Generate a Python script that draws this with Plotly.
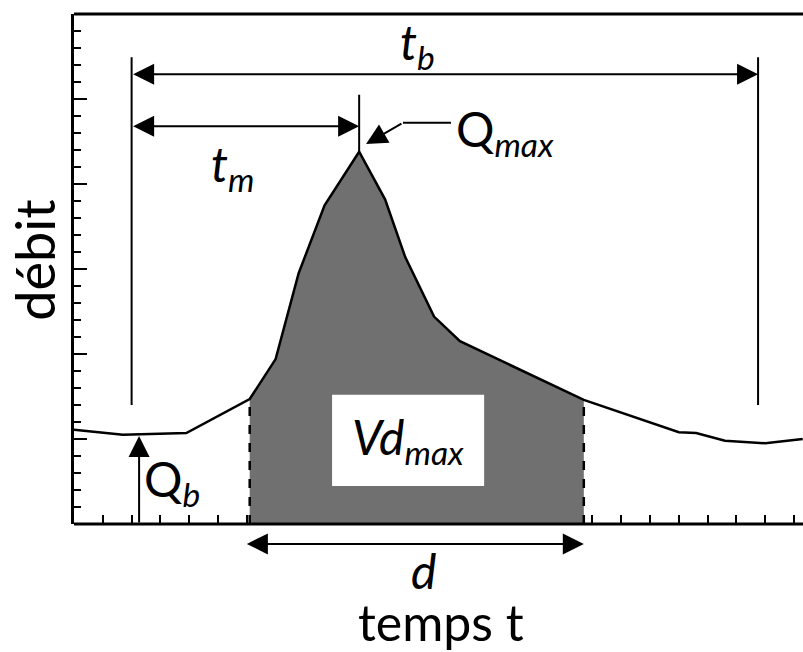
import plotly.graph_objects as go

# ---------------- data ----------------
t = [0, 1.7, 3.9, 6.1, 7.0, 7.8, 8.7, 9.9, 10.8, 11.5, 12.5, 13.4, 17.7, 21.0, 21.6, 22.6, 24.0, 25.3]
Q = [1.11, 1.05, 1.07, 1.47, 1.94, 2.95, 3.75, 4.38, 3.82, 3.14, 2.44, 2.15, 1.46, 1.08, 1.07, 0.98, 0.95, 1.00]

t_start, t_end = 6.1, 17.7            # duration d window (shaded)
t_base_start, t_base_end = 2.0, 23.75  # t_b limits
t_peak = 9.9                           # time of Q_max
t_Qb, Q_base = 2.26, 1.035             # base flow pointer
tb_level, tm_level = 5.29, 4.68        # heights of dimension arrows
base_line_low, base_line_high = 1.4, 5.49
peak_line_high = 5.05
qmax_leader = [13.09, 11.42]           # leader line x
qmax_leader_y = 4.72
qmax_tip = (10.14, 4.47)
vd_box = (8.96, 14.24, 0.447, 1.52)

x_range = [0, 25.31]
y_range = [0, 6]

FONT = "Lato"
GRAY = "#707070"

fig = go.Figure()

# shaded volume
ts = [a for a in t if t_start <= a <= t_end]
qs = [b for a, b in zip(t, Q) if t_start <= a <= t_end]
fig.add_trace(go.Scatter(x=ts, y=qs, mode="lines", fill="tozeroy",
                         fillcolor=GRAY, line=dict(width=0), hoverinfo="skip"))
# hydrograph
fig.add_trace(go.Scatter(x=t, y=Q, mode="lines", line=dict(color="black", width=2.5)))

# vertical reference lines
for xv in [t_base_start, t_base_end]:
    fig.add_trace(go.Scatter(x=[xv, xv], y=[base_line_low, base_line_high], mode="lines",
                             line=dict(color="black", width=2)))
q_peak = Q[t.index(t_peak)]
fig.add_trace(go.Scatter(x=[t_peak, t_peak], y=[q_peak, peak_line_high], mode="lines",
                         line=dict(color="black", width=2)))
# Qmax leader
fig.add_trace(go.Scatter(x=qmax_leader, y=[qmax_leader_y] * 2, mode="lines",
                         line=dict(color="black", width=2)))

shapes = []
# dashed limits of d
for xv in [t_start, t_end]:
    shapes.append(dict(type="line", xref="x", yref="y", x0=xv, x1=xv, y0=0,
                       y1=Q[t.index(xv)], line=dict(color="black", width=2.5, dash="dash"),
                       layer="above"))
# white box
shapes.append(dict(type="rect", xref="x", yref="y", x0=vd_box[0], x1=vd_box[1],
                   y0=vd_box[2], y1=vd_box[3], fillcolor="white", line=dict(width=0),
                   layer="above"))
# axes frame lines
shapes.append(dict(type="line", xref="paper", yref="paper", x0=0, x1=1, y0=0, y1=0,
                   line=dict(color="black", width=3), layer="above"))
shapes.append(dict(type="line", xref="paper", yref="paper", x0=0, x1=1, y0=1, y1=1,
                   line=dict(color="black", width=3), layer="above"))

AS = 2.1
arrow_common = dict(text="", showarrow=True, arrowhead=2, arrowsize=AS,
                    arrowwidth=2, arrowcolor="black", standoff=0, startstandoff=0)
ann = []
# t_b
ann.append(dict(x=t_base_end, y=tb_level, ax=t_base_start, ay=tb_level, xref="x", yref="y",
                axref="x", ayref="y", arrowside="end+start", startarrowhead=2,
                startarrowsize=AS, **arrow_common))
# t_m
ann.append(dict(x=t_peak, y=tm_level, ax=t_base_start, ay=tm_level, xref="x", yref="y",
                axref="x", ayref="y", arrowside="end+start", startarrowhead=2,
                startarrowsize=AS, **arrow_common))
# Q_max pointer
ann.append(dict(x=qmax_tip[0], y=qmax_tip[1], ax=qmax_leader[1], ay=qmax_leader_y,
                xref="x", yref="y", axref="x", ayref="y", **arrow_common))
# Q_b pointer
ann.append(dict(x=t_Qb, y=Q_base, ax=t_Qb, ay=0, xref="x", yref="y",
                axref="x", ayref="y", **arrow_common))
# d arrow (below axis)
ann.append(dict(x=t_end, y=-0.039, ax=5.95, ay=0, xref="x", yref="paper",
                axref="x", ayref="pixel", arrowside="end+start", startarrowhead=2,
                startarrowsize=AS, **arrow_common))

def label(txt, x, y, size=48, xref="x", yref="y", angle=0):
    return dict(text=txt, x=x, y=y, xref=xref, yref=yref, showarrow=False,
                textangle=angle, xanchor="center", yanchor="middle",
                font=dict(family=FONT, size=size, color="black"))

ann.append(label("<i>t</i><sub><i>b</i></sub>", 11.94, 5.64))
ann.append(label("<i>t</i><sub><i>m</i></sub>", 5.49, 4.2))
ann.append(label("Q<sub><i>max</i></sub>", 14.98, 4.61))
ann.append(label("Q<sub><i>b</i></sub>", 3.4, 0.49))
ann.append(label("<i>Vd</i><sub><i>max</i></sub>", 11.6, 0.99))
ann.append(label("<i>d</i>", 12.15, -0.092, yref="paper"))
ann.append(label("temps t", 12.74, -0.192, yref="paper", size=50))
ann.append(label("débit", -0.0535, 0.518, xref="paper", yref="paper", angle=-90, size=54))

fig.update_layout(
    width=803, height=652,
    margin=dict(l=74, r=0, t=14, b=128),
    paper_bgcolor="white", plot_bgcolor="white",
    showlegend=False,
    shapes=shapes, annotations=ann,
    xaxis=dict(range=x_range, showgrid=False, zeroline=False, showline=False,
               ticks="inside", ticklen=9, tickwidth=1.5, tickcolor="black",
               tick0=0, dtick=1, showticklabels=False, layer="below traces"),
    yaxis=dict(range=y_range, showgrid=False, zeroline=False, showline=True,
               linecolor="black", linewidth=3,
               ticks="inside", ticklen=13, tickwidth=1.5, tickcolor="black",
               tick0=0, dtick=1, showticklabels=False,
               minor=dict(ticks="inside", ticklen=7, tickwidth=1.5, tickcolor="black",
                          dtick=0.2, showgrid=False)),
)

fig.write_html("out.html", config={"displayModeBar": False},
               post_script="document.body.style.margin='0';document.body.style.overflow='hidden';")
